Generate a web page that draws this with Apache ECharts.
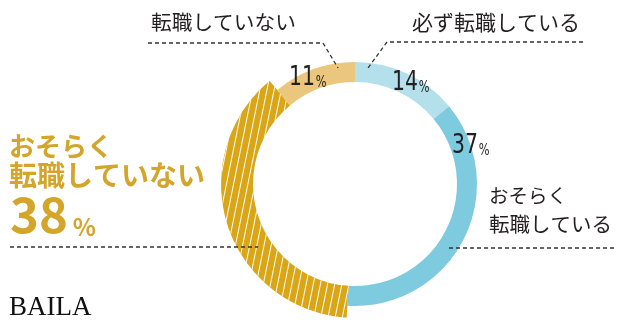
<!DOCTYPE html>
<html>
<head>
<meta charset="utf-8">
<script src="https://cdn.jsdelivr.net/npm/echarts@6/dist/echarts.min.js"></script>
<style>
html,body{margin:0;padding:0;background:#fff;}
#c{width:621px;height:325px;}
</style>
</head>
<body>
<div id="c"></div>
<script>
// Data (clockwise from 12 o'clock)
const categories = ['必ず転職している', 'おそらく転職している', 'おそらく転職していない', '転職していない'];
const values = [14, 37, 38, 11];
const colors = ['#b4e0ec', '#7ecbe0', '#d9a618', '#ebc67d'];
const highlightIndex = 2; // exploded / striped segment

const chart = echarts.init(document.getElementById('c'), null, {renderer: 'canvas'});

const CJK = "'Noto Sans CJK JP', sans-serif";
const NUM = "'DejaVu Sans Condensed', sans-serif";
const GOLD = '#d3a52a';
const DARK = '#231f20';

const baseData = categories.map((c, i) => ({
  name: c, value: values[i],
  itemStyle: { color: i === highlightIndex ? 'rgba(0,0,0,0)' : colors[i] }
}));
const bigData = categories.map((c, i) => ({
  name: c, value: values[i],
  itemStyle: i === highlightIndex ? {
    color: colors[i],
    decal: {
      symbol: 'rect', symbolSize: 1,
      dashArrayX: [1, 0], dashArrayY: [1, 6],
      rotation: Math.PI / 2 + 0.2,
      color: 'rgba(255,255,255,0.95)'
    }
  } : { color: 'rgba(0,0,0,0)' }
}));

function pctLabel(idx, x, y) {
  return {
    type: 'text', left: x, top: y, z: 10, scaleX: 0.84,
    style: {
      text: '{n|' + values[idx] + '}{p|%}',
      rich: {
        n: { fontFamily: NUM, fontSize: 27, fill: DARK, verticalAlign: 'bottom', lineHeight: 26 },
        p: { fontFamily: NUM, fontSize: 15, fill: DARK, verticalAlign: 'bottom', lineHeight: 22, padding: [0,0,0,1] }
      }
    }
  };
}

const dash = { stroke: '#333', lineWidth: 1.3, lineDash: [4, 3], fill: null };

chart.setOption({
  animation: false,
  series: [
    {
      type: 'pie', center: [355, 184], radius: [102, 122], startAngle: 90,
      label: { show: false }, labelLine: { show: false }, silent: true,
      data: baseData
    },
    {
      type: 'pie', center: [355, 184], radius: [102, 134], startAngle: 90,
      label: { show: false }, labelLine: { show: false }, silent: true,
      data: bigData
    }
  ],
  graphic: [
    // top-left annotation
    { type: 'text', left: 151, top: 12, style: { text: categories[3], fontFamily: CJK, fontSize: 20.7, fill: DARK } },
    { type: 'polyline', z: 10, shape: { points: [[148, 43], [323, 43], [338, 68]] }, style: dash },
    // top-right annotation
    { type: 'text', left: 412, top: 12, style: { text: categories[0], fontFamily: CJK, fontSize: 21, fill: DARK } },
    { type: 'polyline', z: 10, shape: { points: [[583, 42], [387, 42], [368, 68]] }, style: dash },
    // right annotation
    { type: 'text', left: 489, top: 186, style: { text: 'おそらく', fontFamily: CJK, fontSize: 19.5, fill: DARK } },
    { type: 'text', left: 489, top: 214, style: { text: '転職している', fontFamily: CJK, fontSize: 20.5, fill: DARK } },
    { type: 'polyline', z: 10, shape: { points: [[449, 248], [614, 248]] }, style: dash },
    // left annotation
    { type: 'text', left: 9, top: 133, style: { text: 'おそらく', fontFamily: CJK, fontSize: 26, fontWeight: 'bold', fill: GOLD } },
    { type: 'text', left: 9, top: 161, style: { text: '転職していない', fontFamily: CJK, fontSize: 28, fontWeight: 'bold', fill: GOLD } },
    { type: 'text', left: 10, top: 190, style: {
        text: '{n|' + values[2] + '}{p|%}',
        rich: {
          n: { fontFamily: CJK, fontSize: 49, fontWeight: 'bold', fill: GOLD, verticalAlign: 'bottom', lineHeight: 48 },
          p: { fontFamily: CJK, fontSize: 24, fontWeight: 'bold', fill: GOLD, verticalAlign: 'bottom', lineHeight: 37, padding: [0,0,0,5] }
        }
    } },
    { type: 'polyline', z: 10, shape: { points: [[10, 247], [258, 247]] }, style: dash },
    // percentage labels
    pctLabel(3, 289, 64),
    pctLabel(0, 392, 69),
    pctLabel(1, 452, 132),
    // logo
    { type: 'text', left: 9, top: 294, style: { text: 'BAILA', fontFamily: "'Liberation Serif', serif", fontSize: 27, fill: '#111' } }
  ]
});
</script>
</body>
</html>
